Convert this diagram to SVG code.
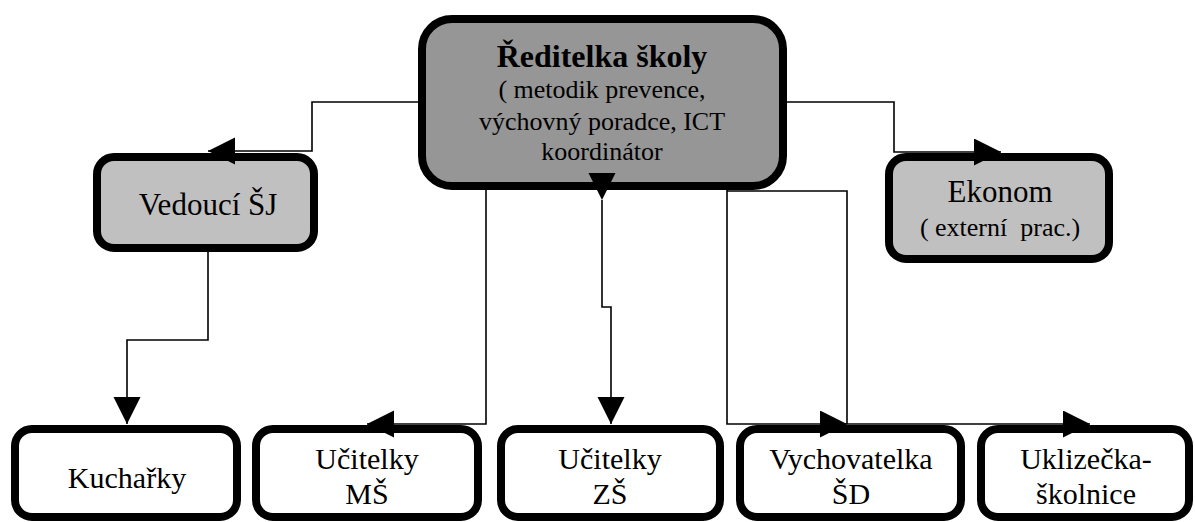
<svg xmlns="http://www.w3.org/2000/svg" width="1195" height="522" viewBox="0 0 1195 522" font-family="'Liberation Serif', 'Times New Roman', Times, serif">
<defs>
<style>
.box{stroke:#000;stroke-width:8}
.dark{fill:#969696}
.light{fill:#c0c0c0}
.white{fill:#fff}
.tx{font-family:'Liberation Serif','Times New Roman',Times,serif;fill:#000;text-anchor:middle}
.t{font-size:32px;font-weight:bold}
.s{font-size:26px}
.m{font-size:31px}
.b{font-size:30px}
.x{font-size:26px;white-space:pre}
.c{fill:none;stroke:#000;stroke-width:1.6}
</style>
<marker id="ah" markerUnits="userSpaceOnUse" markerWidth="28" markerHeight="28" refX="27" refY="13.5" orient="auto">
<path d="M0,0 L27,13.5 L0,27 Z" fill="#000"/>
</marker>
</defs>
<rect width="1195" height="522" fill="#fff"/>
<g id="reditelka">
<rect class="box dark" x="422" y="19" width="361" height="167" rx="30"/>
<text class="tx t" x="602" y="67">Ředitelka školy</text>
<text class="tx s" x="602" y="98">( metodik prevence,</text>
<text class="tx s" x="602" y="130">výchovný poradce, ICT</text>
<text class="tx s" x="602" y="160">koordinátor</text>
</g>
<g id="vedouci">
<rect class="box light" x="97" y="157" width="217" height="91" rx="17"/>
<text class="tx m" x="208" y="215">Vedoucí ŠJ</text>
</g>
<g id="ekonom">
<rect class="box light" x="889" y="157" width="220" height="102" rx="17"/>
<text class="tx m" x="1000" y="202">Ekonom</text>
<text class="tx x" x="1000" y="236">( externí  prac.)</text>
</g>
<g id="kucharky">
<rect class="box white" x="15" y="429" width="222" height="88" rx="17"/>
<text class="tx b" x="127" y="488">Kuchařky</text>
</g>
<g id="ucitelky-ms">
<rect class="box white" x="256" y="429" width="222" height="88" rx="17"/>
<text class="tx b" x="367" y="469">Učitelky</text>
<text class="tx b" x="367" y="504">MŠ</text>
</g>
<g id="ucitelky-zs">
<rect class="box white" x="501" y="429" width="219" height="88" rx="17"/>
<text class="tx b" x="610" y="469">Učitelky</text>
<text class="tx b" x="610" y="504">ZŠ</text>
</g>
<g id="vychovatelka">
<rect class="box white" x="740" y="429" width="221" height="88" rx="17"/>
<text class="tx b" x="851" y="469">Vychovatelka</text>
<text class="tx b" x="851" y="504">ŠD</text>
</g>
<g id="uklizecka">
<rect class="box white" x="981" y="429" width="208" height="88" rx="17"/>
<text class="tx b" x="1086" y="469">Uklizečka-</text>
<text class="tx b" x="1086" y="504">školnice</text>
</g>
<g id="connectors">
<path class="c" d="M418,102 H312 V151 H208" marker-end="url(#ah)"/>
<path class="c" d="M787,102 H894 V152 H1001" marker-end="url(#ah)"/>
<path class="c" d="M208,252 V340 H127 V424" marker-end="url(#ah)"/>
<path class="c" d="M486,190 V424 H367" marker-end="url(#ah)"/>
<path class="c" d="M602,200 V307 H611 V424" marker-start="url(#ah)" marker-end="url(#ah)"/>
<path class="c" d="M727,190 V424 H847" marker-end="url(#ah)"/>
<path class="c" d="M727,191 H847 V424 H1090" marker-end="url(#ah)"/>
</g>
</svg>
